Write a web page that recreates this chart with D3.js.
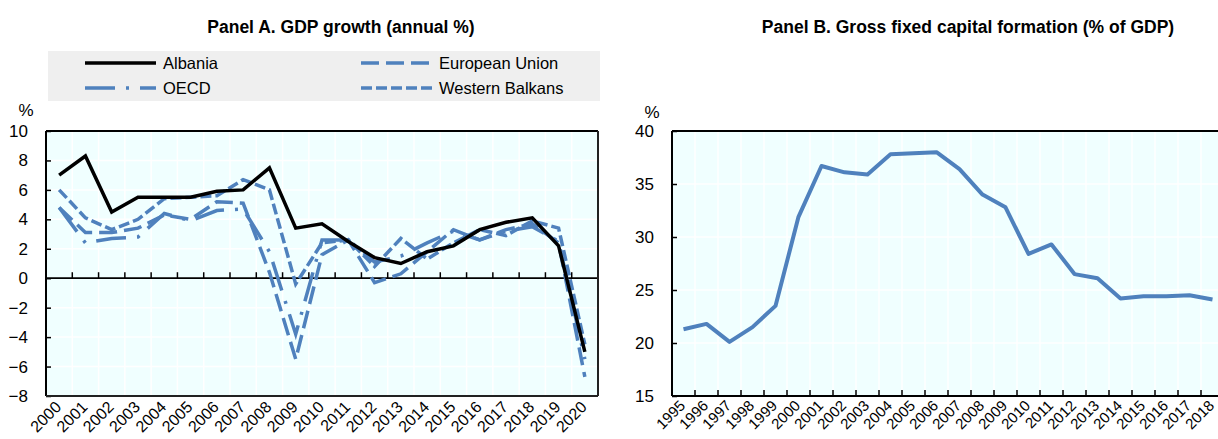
<!DOCTYPE html>
<html>
<head>
<meta charset="utf-8">
<script src="https://cdn.jsdelivr.net/npm/d3@7"></script>
<style>
  html, body { margin: 0; padding: 0; background: #ffffff; }
  svg { display: block; font-family: "Liberation Sans", Arial, Helvetica, sans-serif; }
</style>
</head>
<body>
<svg id="chart" width="1218" height="439"></svg>
<script>
// ---- Panel A: GDP growth (annual %) ----
const yearsA = ["2000","2001","2002","2003","2004","2005","2006","2007","2008","2009","2010",
                "2011","2012","2013","2014","2015","2016","2017","2018","2019","2020"];
const albania        = [7.0, 8.3, 4.5, 5.5, 5.5, 5.5, 5.9, 6.0, 7.5, 3.4, 3.7, 2.5, 1.4, 1.0, 1.8, 2.2, 3.3, 3.8, 4.1, 2.2, -5.0];
const europeanUnion  = [4.8, 3.1, 3.1, 3.4, 4.3, 4.0, 5.2, 5.1, 0.4, -5.5, 1.6, 2.6, -0.3, 0.3, 1.8, 3.3, 2.6, 3.3, 3.7, 2.4, -6.7];
const oecd           = [4.8, 2.4, 2.7, 2.8, 4.4, 3.9, 4.6, 4.7, 1.8, -3.8, 2.6, 2.6, 1.1, 1.5, 2.4, 3.2, 2.6, 3.2, 3.5, 2.5, -5.5];
const westernBalkans = [6.0, 4.1, 3.3, 4.0, 5.4, 5.5, 5.6, 6.7, 6.0, -0.4, 2.4, 2.6, 0.8, 2.7, 1.3, 2.4, 3.3, 2.9, 3.9, 3.4, -4.5];
const ticksA = [10, 8, 6, 4, 2, 0, -2, -4, -6, -8];

// ---- Panel B: Gross fixed capital formation (% of GDP) ----
const yearsB = ["1995","1996","1997","1998","1999","2000","2001","2002","2003","2004","2005","2006",
                "2007","2008","2009","2010","2011","2012","2013","2014","2015","2016","2017","2018"];
const gfcf = [21.3, 21.8, 20.1, 21.5, 23.5, 31.9, 36.7, 36.1, 35.9, 37.8, 37.9, 38.0,
              36.4, 34.0, 32.8, 28.4, 29.3, 26.5, 26.1, 24.2, 24.4, 24.4, 24.5, 24.1];
const ticksB = [40, 35, 30, 25, 20, 15];

const BLUE = "#4f81bd";
const PLOT_BG = "#f0ffff";

const seriesA = [
  { name: "Albania",         values: albania,        color: "#000000", dash: null,          width: 3.5 },
  { name: "European Union",  values: europeanUnion,  color: BLUE,      dash: "18,7",        width: 3.5 },
  { name: "OECD",            values: oecd,           color: BLUE,      dash: "30,11,3,11",  width: 3.5 },
  { name: "Western Balkans", values: westernBalkans, color: BLUE,      dash: "11,4",        width: 3.5 }
];

const svg = d3.select("#chart");

function panelFrame(g, x, y, cats, ticks, left, right, top, bottom, xAxisY, labelFont, labelDx, labelY) {
  // background
  g.append("rect").attr("x", left).attr("y", top)
    .attr("width", right - left).attr("height", bottom - top).attr("fill", PLOT_BG);
  // white gridlines
  const bounds = cats.slice(1).map(c => x(c));
  g.selectAll(null).data(bounds).enter().append("line")
    .attr("x1", d => d).attr("x2", d => d).attr("y1", top).attr("y2", bottom)
    .attr("stroke", "#ffffff").attr("stroke-width", 1.5);
  g.selectAll(null).data(ticks).enter().append("line")
    .attr("x1", left).attr("x2", right).attr("y1", d => y(d)).attr("y2", d => y(d))
    .attr("stroke", "#ffffff").attr("stroke-width", 1.5);

  // y axis with inward ticks
  const yAxis = d3.axisLeft(y).tickValues(ticks).tickSize(-5).tickPadding(18).tickFormat(d3.format("d"));
  const ya = g.append("g").attr("transform", `translate(${left},0)`).call(yAxis);
  ya.select(".domain").remove();
  ya.selectAll(".tick line").attr("stroke", "#000").attr("stroke-width", 1.5);
  ya.selectAll(".tick text").attr("font-size", 17).attr("fill", "#000")
    .attr("font-family", "'Liberation Sans', Arial, sans-serif");

  // x axis with upward ticks on band boundaries
  const xAxis = d3.axisBottom(x).tickSize(0).tickFormat("");
  const xa = g.append("g").attr("transform", `translate(0,${xAxisY})`).call(xAxis);
  xa.select(".domain").remove();
  xa.selectAll(".tick").remove();
  g.selectAll(null).data(bounds).enter().append("line")
    .attr("x1", d => d).attr("x2", d => d).attr("y1", xAxisY - 6).attr("y2", xAxisY)
    .attr("stroke", "#000").attr("stroke-width", 1.5);
  g.append("line").attr("x1", left).attr("x2", right).attr("y1", xAxisY).attr("y2", xAxisY)
    .attr("stroke", "#000").attr("stroke-width", 1.8);

  // rotated category labels
  g.selectAll(null).data(cats).enter().append("text")
    .attr("transform", d => `translate(${x(d) + x.bandwidth() / 2 + labelDx},${labelY}) rotate(-45)`)
    .attr("text-anchor", "end").attr("dy", "0.71em")
    .attr("font-size", labelFont).attr("fill", "#000")
    .text(d => d);

  // frame
  g.append("line").attr("x1", left).attr("x2", right).attr("y1", top).attr("y2", top)
    .attr("stroke", "#000").attr("stroke-width", 2);
  g.append("line").attr("x1", left).attr("x2", left).attr("y1", top).attr("y2", bottom)
    .attr("stroke", "#000").attr("stroke-width", 2);
}

// ================= Panel A =================
{
  const left = 46, right = 598, top = 131, bottom = 396;
  const x = d3.scaleBand().domain(yearsA).range([left, right]).padding(0);
  const y = d3.scaleLinear().domain([-8, 10]).range([bottom, top]);
  const g = svg.append("g");

  svg.append("text").attr("x", 341).attr("y", 33).attr("text-anchor", "middle")
    .attr("font-size", 17.5).attr("font-weight", "bold").text("Panel A. GDP growth (annual %)");

  // legend
  g.append("rect").attr("x", 48).attr("y", 51).attr("width", 552).attr("height", 50).attr("fill", "#efefef");
  const legendPos = [[85, 63], [361, 63], [85, 88], [361, 88]];
  seriesA.forEach((s, i) => {
    const [lx, ly] = legendPos[i];
    g.append("line").attr("x1", lx).attr("x2", lx + 71).attr("y1", ly).attr("y2", ly)
      .attr("stroke", s.color).attr("stroke-width", s.width)
      .attr("stroke-dasharray", s.dash);
    g.append("text").attr("x", lx + 78).attr("y", ly + 6).attr("font-size", 16.5).text(s.name);
  });

  svg.append("text").attr("x", 26).attr("y", 116).attr("text-anchor", "middle").attr("font-size", 17).text("%");

  panelFrame(g, x, y, yearsA, ticksA, left, right, top, bottom, y(0), 16, -5, 400);

  // right and bottom frame
  g.append("line").attr("x1", right).attr("x2", right).attr("y1", top).attr("y2", bottom)
    .attr("stroke", "#222").attr("stroke-width", 2);
  g.append("line").attr("x1", left).attr("x2", right).attr("y1", bottom).attr("y2", bottom)
    .attr("stroke", "#222").attr("stroke-width", 2);

  const line = d3.line()
    .x((d, i) => x(yearsA[i]) + x.bandwidth() / 2)
    .y(d => y(d));

  // blue series first, Albania on top
  [3, 2, 1, 0].forEach(si => {
    const s = seriesA[si];
    g.append("path").datum(s.values)
      .attr("d", line).attr("fill", "none")
      .attr("stroke", s.color).attr("stroke-width", s.width)
      .attr("stroke-dasharray", s.dash)
      .attr("stroke-linejoin", "miter");
  });
}

// ================= Panel B =================
{
  const left = 672, right = 1224, top = 131, bottom = 396;
  const x = d3.scaleBand().domain(yearsB).range([left, right]).padding(0);
  const y = d3.scaleLinear().domain([15, 40]).range([bottom, top]);
  const g = svg.append("g");

  svg.append("text").attr("x", 968).attr("y", 33).attr("text-anchor", "middle")
    .attr("font-size", 17.5).attr("font-weight", "bold")
    .text("Panel B. Gross fixed capital formation (% of GDP)");

  svg.append("text").attr("x", 652).attr("y", 118).attr("text-anchor", "middle").attr("font-size", 17).text("%");

  panelFrame(g, x, y, yearsB, ticksB, left, right, top, bottom, bottom, 15, -5, 399);

  const line = d3.line()
    .x((d, i) => x(yearsB[i]) + x.bandwidth() / 2)
    .y(d => y(d));

  g.append("path").datum(gfcf)
    .attr("d", line).attr("fill", "none")
    .attr("stroke", BLUE).attr("stroke-width", 4)
    .attr("stroke-linejoin", "round");
}
</script>
</body>
</html>
